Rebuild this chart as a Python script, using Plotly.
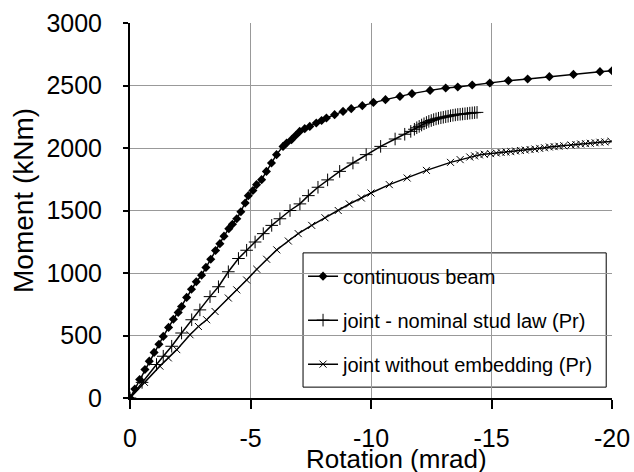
import plotly.graph_objects as go

# rotation in mrad (negative), moment in kNm
beam_rot = [0, -0.2, -0.4, -0.62, -0.8, -1.0, -1.2, -1.38, -1.6, -1.8, -2.0, -2.14, -2.35, -2.55,
            -2.75, -2.97, -3.15, -3.35, -3.55, -3.73, -3.9, -4.1, -4.25, -4.43, -4.6, -4.78,
            -4.91, -5.1, -5.25, -5.46, -5.66, -5.87, -6.08, -6.35, -6.5, -6.7, -6.87, -7.04,
            -7.25, -7.46, -7.73, -7.95, -8.15, -8.49, -8.84, -9.18, -9.64, -10.1, -10.6, -11.2,
            -11.7, -12.45, -13.1, -13.6, -14.2, -14.93, -15.7, -16.5, -17.4, -18.4, -19.5, -20.0]
beam_mom = [0, 72, 148, 228, 295, 365, 430, 493, 565, 630, 685, 732, 805, 870,
            930, 983, 1045, 1110, 1180, 1235, 1295, 1355, 1390, 1434, 1490, 1560,
            1619, 1660, 1707, 1747, 1813, 1880, 1947, 2013, 2040, 2067, 2100, 2133,
            2155, 2173, 2200, 2220, 2240, 2267, 2293, 2315, 2339, 2365, 2387, 2413,
            2435, 2461, 2480, 2488, 2504, 2520, 2539, 2552, 2571, 2589, 2611, 2618]

stud_rot = [0, -0.5, -1.1, -1.38, -1.73, -2.14, -2.56, -2.9, -3.32, -3.67, -4.08, -4.5, -4.84,
            -5.19, -5.53, -5.88, -6.22, -6.64, -7.05, -7.4, -7.8, -8.2, -8.7, -9.25, -9.8,
            -10.4, -11.0, -11.4, -11.65, -11.8, -11.9, -12.0, -12.1, -12.2, -12.3, -12.4,
            -12.5, -12.6, -12.7, -12.8, -12.9, -13.0, -13.1, -13.2, -13.3, -13.4, -13.5,
            -13.6, -13.7, -13.8, -13.9, -14.0, -14.1, -14.2, -14.3, -14.4]
stud_mom = [0, 125, 268, 334, 414, 520, 626, 705, 811, 890, 1010, 1116, 1182,
            1248, 1315, 1381, 1434, 1500, 1553, 1619, 1686, 1745, 1813, 1880, 1947,
            2013, 2072, 2110, 2133, 2150, 2162, 2173, 2184, 2194, 2204, 2213,
            2220, 2227, 2233, 2238, 2242, 2246, 2250, 2254, 2258, 2262, 2265,
            2268, 2270, 2272, 2274, 2276, 2279, 2281, 2283, 2285]

free_rot = [0, -0.6, -1.24, -1.59, -1.94, -2.49, -2.84, -3.18, -3.53, -4.08, -4.43, -4.84,
            -5.26, -5.67, -6.09, -6.57, -6.98, -7.54, -8.09, -8.64, -9.1, -9.6, -10.0,
            -10.76, -11.5, -12.3, -13.3, -13.7, -14.1, -14.3, -14.5, -14.7, -14.96, -15.2,
            -15.4, -15.6, -15.8, -16.0, -16.2, -16.4, -16.6, -16.8, -17.0, -17.2, -17.4,
            -17.6, -17.8, -18.0, -18.3, -18.5, -18.7, -18.9, -19.1, -19.3, -19.5, -19.7,
            -19.96]
free_mom = [0, 125, 255, 321, 387, 506, 572, 626, 692, 800, 865, 944,
            1030, 1110, 1185, 1256, 1315, 1381, 1442, 1500, 1552, 1600, 1640,
            1707, 1760, 1821, 1885, 1907, 1928, 1937, 1945, 1950, 1955, 1960,
            1964, 1968, 1971, 1976, 1980, 1984, 1988, 1992, 1997, 2002, 2008,
            2011, 2014, 2018, 2024, 2028, 2032, 2035, 2038, 2042, 2046, 2049,
            2053]

x_ticks = [0, -5, -10, -15, -20]
x_labels = ["0", "-5", "-10", "-15", "-20"]
y_ticks = [0, 500, 1000, 1500, 2000, 2500, 3000]

font = "Liberation Sans, Arial, sans-serif"

fig = go.Figure()
fig.add_trace(go.Scatter(x=beam_rot, y=beam_mom, name="continuous beam", mode="lines+markers",
                         line=dict(color="black", width=1.5),
                         marker=dict(symbol="diamond", size=7, color="black"),
                         legendgroup="a"))
fig.add_trace(go.Scatter(x=stud_rot, y=stud_mom, name="joint - nominal stud law (Pr)",
                         mode="lines+markers", line=dict(color="black", width=1.5),
                         marker=dict(symbol="cross-thin", size=9, color="black",
                                     line=dict(color="black", width=1)),
                         legendgroup="b"))
fig.add_trace(go.Scatter(x=free_rot, y=free_mom, name="joint without embedding (Pr)",
                         mode="lines+markers", line=dict(color="black", width=1.5),
                         marker=dict(symbol="x-thin", size=7, color="black",
                                     line=dict(color="black", width=1)),
                         legendgroup="c"))

# legend frame
fig.add_shape(type="rect", xref="paper", yref="paper", x0=0.359, x1=0.988, y0=0.029, y1=0.387,
              line=dict(color="black", width=1), fillcolor="white", layer="between")

fig.update_layout(
    width=634, height=472,
    margin=dict(l=130, r=22, t=23, b=74),
    paper_bgcolor="white", plot_bgcolor="white",
    font=dict(family=font, size=25, color="black"),
    showlegend=True,
    legend=dict(x=0.359, y=0.377, xanchor="left", yanchor="top",
                bgcolor="rgba(0,0,0,0)", borderwidth=0,
                font=dict(size=20), tracegroupgap=15, itemwidth=30),
    xaxis=dict(range=[0, -20], tickvals=x_ticks, ticktext=x_labels, automargin=False,
               showgrid=True, gridcolor="#999999", gridwidth=1,
               showline=True, linecolor="black", linewidth=2,
               ticks="outside", ticklen=9, tickcolor="black", tickwidth=1.5,
               ticklabelstandoff=8, zeroline=False),
    yaxis=dict(range=[0, 3000], tickvals=y_ticks, automargin=False,
               showgrid=True, gridcolor="#999999", gridwidth=1,
               showline=True, linecolor="black", linewidth=2,
               ticks="outside", ticklen=5, tickcolor="black", tickwidth=1.5,
               ticklabelstandoff=16, zeroline=False),
    annotations=[
        dict(text="Rotation (mrad)", xref="paper", yref="paper", x=0.552, y=-0.163,
             xanchor="center", yanchor="middle", showarrow=False, font=dict(size=26)),
        dict(text="Moment (kNm)", xref="paper", yref="paper", x=-0.222, y=0.528,
             xanchor="center", yanchor="middle", textangle=-90, showarrow=False,
             font=dict(size=28)),
    ],
)

# page body has a default margin; remove it so the figure sits at the window corner
fig.write_html("out.html", post_script="document.body.style.margin='0';",
               config={"displayModeBar": False})
